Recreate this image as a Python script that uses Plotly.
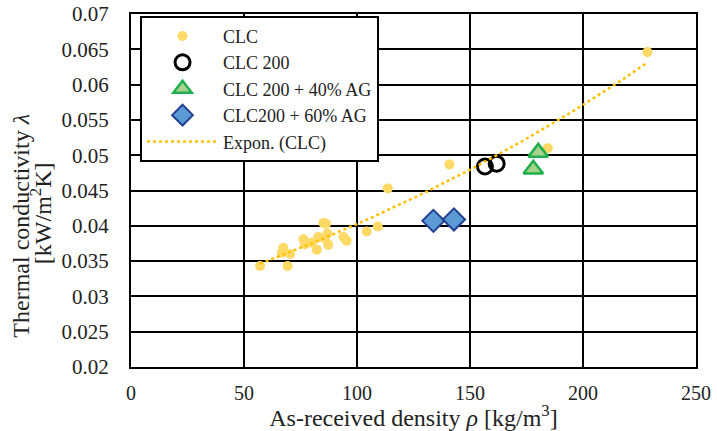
import numpy as np
import plotly.graph_objects as go

# Data
clc_density = [57.1, 69.3, 67.4, 66.7, 70.4, 76.3, 77.0, 80.0, 82.2, 82.9, 85.1, 86.3, 86.9, 87.3,
               85.8, 94.0, 95.4, 104.3, 109.2, 113.6, 140.9, 184.4, 228.5]
clc_lambda = [0.0343, 0.0343, 0.0369, 0.0362, 0.0360, 0.0381, 0.0374, 0.0376, 0.0366, 0.0384,
              0.0404, 0.0403, 0.0389, 0.0373, 0.0382, 0.0384, 0.0379, 0.0392, 0.0399, 0.0453,
              0.0487, 0.0510, 0.0646]

clc200_density = [156.6, 161.8]
clc200_lambda = [0.0484, 0.0488]

ag40_density = [180.2, 178.0]
ag40_lambda = [0.0504, 0.0480]

ag60_density = [133.8, 142.9]
ag60_lambda = [0.0407, 0.0409]

# Exponential trendline fitted to CLC data
b, ln_a = np.polyfit(np.array(clc_density), np.log(np.array(clc_lambda)), 1)
trend_x = np.linspace(min(clc_density), max(clc_density), 100)
trend_y = np.exp(ln_a) * np.exp(b * trend_x)

FONT = "Liberation Serif"
TXT = "#222"

fig = go.Figure()
fig.add_trace(go.Scatter(x=clc_density, y=clc_lambda, mode="markers", name="CLC",
                         marker=dict(color="#FFD966", size=10, line=dict(width=0))))
fig.add_trace(go.Scatter(x=clc200_density, y=clc200_lambda, mode="markers", name="CLC 200",
                         marker=dict(symbol="circle-open", color="black", size=15,
                                     line=dict(width=3, color="black"))))
fig.add_trace(go.Scatter(x=ag40_density, y=ag40_lambda, mode="markers", name="CLC 200 + 40% AG",
                         marker=dict(symbol="triangle-up", color="#A9D18E", size=17,
                                     line=dict(width=2.5, color="#1FAF4B"))))
fig.add_trace(go.Scatter(x=ag60_density, y=ag60_lambda, mode="markers", name="CLC200 + 60% AG",
                         marker=dict(symbol="diamond", color="#5B9BD5", size=17,
                                     line=dict(width=2, color="#243F8F"))))
fig.add_trace(go.Scatter(x=trend_x, y=trend_y, mode="lines", name="Expon. (CLC)",
                         line=dict(color="#FFC000", width=2.5, dash="dot")))

fig.update_layout(
    width=717, height=431,
    margin=dict(l=131, r=21, t=14, b=64),
    plot_bgcolor="white", paper_bgcolor="white",
    font=dict(family=FONT, size=19, color=TXT),
    showlegend=True,
    legend=dict(x=0.016, y=0.995, xanchor="left", yanchor="top",
                bgcolor="white", bordercolor="black", borderwidth=2,
                font=dict(family=FONT, size=18, color=TXT),
                itemwidth=71, tracegroupgap=0),
    annotations=[
        dict(text="Thermal conductivity <i>λ</i>", textangle=-90, xref="paper", yref="paper",
             x=-0.195, y=0.40, xanchor="center", yanchor="middle", showarrow=False,
             font=dict(family=FONT, size=24, color=TXT)),
        dict(text="[kW/m<sup>2</sup>K]", textangle=-90, xref="paper", yref="paper",
             x=-0.158, y=0.435, xanchor="center", yanchor="middle", showarrow=False,
             font=dict(family=FONT, size=24, color=TXT)),
    ],
)
fig.update_xaxes(range=[0, 250], dtick=50, showgrid=True, gridcolor="black", gridwidth=2,
                 showline=True, linecolor="black", linewidth=2, mirror=True, zeroline=False,
                 ticks="", ticklabelstandoff=7, automargin=False,
                 tickfont=dict(family=FONT, size=20, color=TXT),
                 title=dict(text="As-received density <i>ρ</i> [kg/m<sup>3</sup>]",
                            font=dict(family=FONT, size=24, color=TXT), standoff=2))
fig.update_yaxes(range=[0.02, 0.07], dtick=0.005, showgrid=True, gridcolor="black", gridwidth=2,
                 showline=True, linecolor="black", linewidth=2, mirror=True, zeroline=False,
                 ticks="", ticklabelstandoff=16, tickformat="~g", automargin=False,
                 tickfont=dict(family=FONT, size=21, color=TXT))

fig.write_html("out.html")
